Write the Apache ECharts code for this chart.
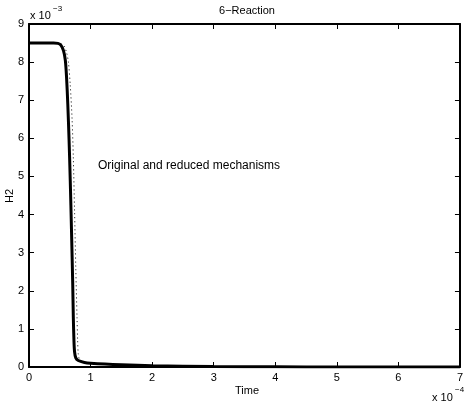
<!DOCTYPE html>
<html><head><meta charset="utf-8">
<script src="https://cdn.jsdelivr.net/npm/echarts@6/dist/echarts.min.js"></script>
<style>html,body{margin:0;padding:0;background:#fff}#c{width:466px;height:406px}</style>
</head><body><div id="c"></div>
<script>
// Time in units of 1e-4, H2 in units of 1e-3
const origT = [0, 0.4, 0.47, 0.52, 0.56, 0.59, 0.61, 0.63, 0.65, 0.67, 0.69, 0.71, 0.72, 0.73, 0.74, 0.76, 0.8, 0.9, 1.0, 1.5, 2.0, 3.0, 4.0, 5.0, 7.0];
const origH = [8.5, 8.5, 8.49, 8.44, 8.3, 8.05, 7.6, 6.9, 6.0, 4.9, 3.6, 2.2, 1.3, 0.7, 0.4, 0.24, 0.17, 0.12, 0.1, 0.06, 0.035, 0.012, 0.004, 0.001, 0.0];
const redT = [0, 0.45, 0.52, 0.57, 0.61, 0.64, 0.67, 0.7, 0.72, 0.74, 0.76, 0.78, 0.79, 0.8, 0.82, 0.86, 0.9, 1.0, 1.5, 2.0, 3.0, 4.0, 5.0, 7.0];
const redH = [8.5, 8.5, 8.48, 8.42, 8.25, 8.0, 7.4, 6.5, 5.5, 4.1, 2.6, 1.3, 0.7, 0.35, 0.2, 0.14, 0.12, 0.1, 0.06, 0.035, 0.012, 0.004, 0.001, 0.0];
const xTicks = [0, 1, 2, 3, 4, 5, 6, 7];
const yTicks = [0, 1, 2, 3, 4, 5, 6, 7, 8, 9];
const titleText = '6\u2212Reaction';
const xName = 'Time';
const yName = 'H2';
const annotation = 'Original and reduced mechanisms';

const F = '"Liberation Sans", Arial, Helvetica, sans-serif';
const GL = 29, GR = 1, GT = 24, GB = 39;
const chart = echarts.init(document.getElementById('c'), null, {renderer: 'canvas'});
function xAx(pos, labels) {
  return {type: 'value', position: pos, min: xTicks[0], max: xTicks[xTicks.length - 1], interval: 1,
    axisLine: {show: true, onZero: false, lineStyle: {color: '#000', width: 2}}, splitLine: {show: false},
    axisTick: {show: true, inside: true, length: 5, lineStyle: {color: '#000', width: 1}},
    axisLabel: {show: labels, color: '#000', fontFamily: F, fontSize: 11, margin: 5}};
}
function yAx(pos, labels) {
  return {type: 'value', position: pos, min: yTicks[0], max: yTicks[yTicks.length - 1], interval: 1,
    axisLine: {show: true, onZero: false, lineStyle: {color: '#000', width: 2}}, splitLine: {show: false},
    axisTick: {show: true, inside: true, length: 5, lineStyle: {color: '#000', width: 1}},
    axisLabel: {show: labels, color: '#000', fontFamily: F, fontSize: 11, margin: 5}};
}
const pw = 466 - GL - GR, cx = GL + pw / 2;
chart.setOption({
  animation: false,
  backgroundColor: '#fff',
  grid: {left: GL, right: GR, top: GT, bottom: GB, containLabel: false, show: false},
  xAxis: [xAx('bottom', true), xAx('top', false)],
  yAxis: [yAx('left', true), yAx('right', false)],
  series: [
    {type: 'line', xAxisIndex: 0, yAxisIndex: 0, data: origT.map((t, i) => [t, origH[i]]), showSymbol: false, smooth: 0.3,
      lineStyle: {color: '#000', width: 3}, z: 3},
    {type: 'line', xAxisIndex: 0, yAxisIndex: 0, data: redT.map((t, i) => [t, redH[i]]), showSymbol: false, smooth: 0.3,
      lineStyle: {color: '#000', width: 1, type: [1, 3]}, z: 4},
    {type: 'line', xAxisIndex: 1, yAxisIndex: 1, data: [], showSymbol: false}
  ],
  graphic: [
    {type: 'text', x: cx, y: 5, style: {text: titleText, font: '11px ' + F, fill: '#000', textAlign: 'center'}},
    {type: 'text', x: 30, y: 10, style: {text: 'x 10', font: '11px ' + F, fill: '#000'}},
    {type: 'text', x: 53, y: 5, style: {text: '\u22123', font: '8px ' + F, fill: '#000'}},
    {type: 'text', x: cx, y: 385, style: {text: xName, font: '11px ' + F, fill: '#000', textAlign: 'center'}},
    {type: 'text', x: 432, y: 392, style: {text: 'x 10', font: '11px ' + F, fill: '#000'}},
    {type: 'text', x: 455, y: 386, style: {text: '\u22124', font: '8px ' + F, fill: '#000'}},
    {type: 'text', x: 10, y: 196, rotation: Math.PI / 2, style: {text: yName, font: '11px ' + F, fill: '#000', textAlign: 'center', textVerticalAlign: 'middle'}},
    {type: 'text', x: 98, y: 160, style: {text: annotation, font: '12px ' + F, fill: '#000'}}
  ]
});
</script></body></html>
